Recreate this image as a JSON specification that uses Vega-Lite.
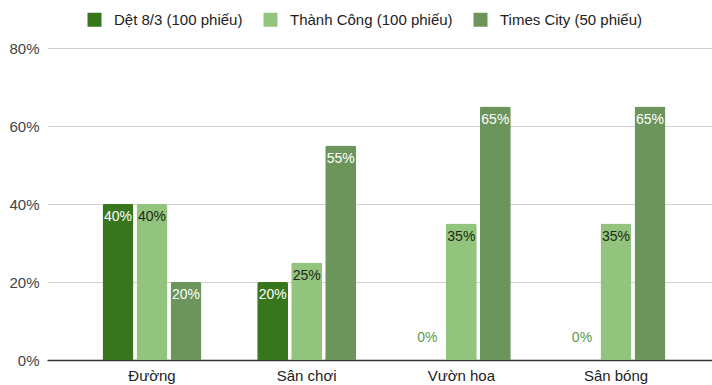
{
  "$schema": "https://vega.github.io/schema/vega-lite/v6.json",
  "width": 665,
  "height": 312,
  "autosize": {"type": "none"},
  "padding": {"left": 47, "top": 48, "right": 0, "bottom": 25},
  "background": "white",
  "config": {
    "view": {"stroke": null},
    "font": "Liberation Sans",
    "axis": {"labelFont": "Liberation Sans", "labelFontSize": 15, "labelColor": "#444", "ticks": false}
  },
  "data": {
    "values": [
      {"category": "Đường", "series": "Dệt 8/3 (100 phiếu)", "value": 0.40},
      {"category": "Đường", "series": "Thành Công (100 phiếu)", "value": 0.40},
      {"category": "Đường", "series": "Times City (50 phiếu)", "value": 0.20},
      {"category": "Sân chơi", "series": "Dệt 8/3 (100 phiếu)", "value": 0.20},
      {"category": "Sân chơi", "series": "Thành Công (100 phiếu)", "value": 0.25},
      {"category": "Sân chơi", "series": "Times City (50 phiếu)", "value": 0.55},
      {"category": "Vườn hoa", "series": "Dệt 8/3 (100 phiếu)", "value": 0},
      {"category": "Vườn hoa", "series": "Thành Công (100 phiếu)", "value": 0.35},
      {"category": "Vườn hoa", "series": "Times City (50 phiếu)", "value": 0.65},
      {"category": "Sân bóng", "series": "Dệt 8/3 (100 phiếu)", "value": 0},
      {"category": "Sân bóng", "series": "Thành Công (100 phiếu)", "value": 0.35},
      {"category": "Sân bóng", "series": "Times City (50 phiếu)", "value": 0.65}
    ]
  },
  "encoding": {
    "x": {
      "field": "category", "type": "nominal", "sort": null,
      "scale": {"range": [0, 674], "paddingInner": 0.36, "paddingOuter": 0.359},
      "axis": {"title": null, "labelAngle": 0, "labelPadding": 8, "domainColor": "#333", "domainWidth": 1.5, "labelColor": "#222", "grid": false}
    },
    "xOffset": {
      "field": "series", "type": "nominal", "sort": null,
      "scale": {"paddingInner": 0.09, "paddingOuter": 0}
    },
    "y": {
      "field": "value", "type": "quantitative",
      "scale": {"domain": [0, 0.8]},
      "axis": {"title": null, "format": ".0%", "values": [0, 0.2, 0.4, 0.6, 0.8], "domain": false, "gridColor": "#d0d0d0", "labelPadding": 8}
    }
  },
  "layer": [
    {
      "mark": {"type": "bar", "cornerRadiusTopLeft": 2, "cornerRadiusTopRight": 2},
      "encoding": {
        "color": {
          "field": "series", "type": "nominal", "sort": null,
          "scale": {"domain": ["Dệt 8/3 (100 phiếu)", "Thành Công (100 phiếu)", "Times City (50 phiếu)"], "range": ["#38761d", "#93c47d", "#6b955a"]},
          "legend": {
            "orient": "none", "legendX": 40, "legendY": -36, "direction": "horizontal",
            "title": null, "symbolType": "square", "symbolSize": 196, "symbolStrokeWidth": 0,
            "labelFontSize": 15, "labelColor": "#222", "labelFont": "Liberation Sans", "labelOffset": 12, "columnPadding": 20, "labelLimit": 400
          }
        }
      }
    },
    {
      "transform": [{"filter": "datum.value > 0"}],
      "mark": {"type": "text", "baseline": "top", "dy": 6, "fontSize": 14},
      "encoding": {
        "text": {"field": "value", "type": "quantitative", "format": ".0%"},
        "color": {
          "condition": {"test": "datum.series == 'Thành Công (100 phiếu)'", "value": "#1e2a18"},
          "value": "#ffffff"
        }
      }
    },
    {
      "transform": [{"filter": "datum.value == 0"}],
      "mark": {"type": "text", "baseline": "bottom", "dy": -15, "fontSize": 14, "color": "#5b9a48"},
      "encoding": {
        "text": {"field": "value", "type": "quantitative", "format": ".0%"}
      }
    }
  ]
}
